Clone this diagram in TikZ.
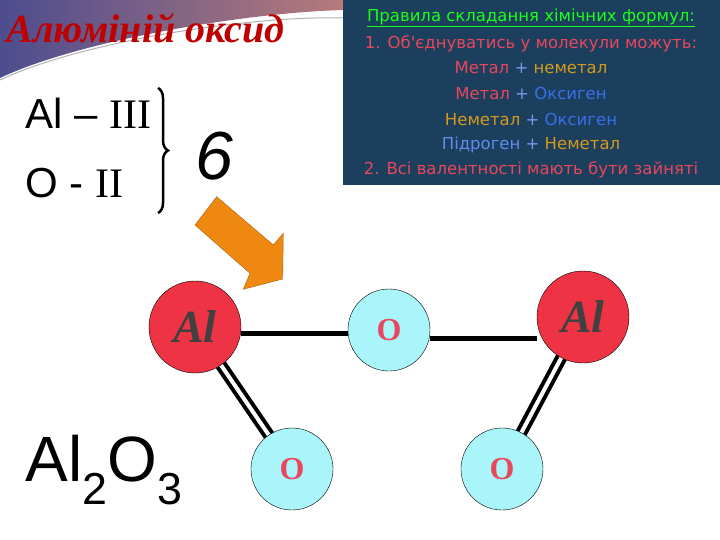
\documentclass[tikz,border=0pt]{standalone}
\usepackage{fontspec}
\setmainfont{Liberation Serif}
\newfontfamily\tah{DejaVu Sans}
\newfontfamily\ari{Liberation Sans}
\usetikzlibrary{decorations.pathreplacing}
\definecolor{boxc}{HTML}{1B3F5C}
\definecolor{rr}{HTML}{E8475E}
\definecolor{oo}{HTML}{D49A1E}
\definecolor{bb}{HTML}{3A6FEA}
\definecolor{alc}{HTML}{EE3344}
\definecolor{oxc}{HTML}{AAF5FA}
\definecolor{arr}{HTML}{EE8811}
\tikzset{
  alatom/.style={circle,draw=black,fill=alc,minimum size=92pt,inner sep=0pt,font=\bfseries\itshape\fontsize{46}{46}\selectfont,text=black!75},
  oatom/.style={circle,draw=black,fill=oxc,minimum size=82pt,inner sep=0pt,font=\bfseries\fontsize{32}{32}\selectfont,text=rr},
  bond/.style={line width=5pt},
  dbond/.style={draw=black,line width=4pt,double=white,double distance=4pt},
  rule/.style={font=\tah\fontsize{16.5}{16.5}\selectfont,anchor=center}
}
\begin{document}
\begin{tikzpicture}[x=1pt,y=-1pt]
\useasboundingbox (0,0) rectangle (720,540);
\fill[white] (0,0) rectangle (720,540);
% swoosh
\shade[left color=black!35!blue!40!gray, right color=red!30!gray!80] (0,0)--(345,0)--(345,10) .. controls (250,12) and (80,40) .. (0,78) -- cycle;
\draw[gray!60,line width=1pt] (0,80) .. controls (80,42) and (250,15) .. (345,18);
\node[font=\bfseries\itshape\fontsize{40}{40}\selectfont,text=red!75!black,anchor=west] (title) at (3,28) {Алюміній оксид};
% rules box
\fill[boxc] (343,0) rectangle (720,185);
\node[rule,text=green!90!white] (r0) at (531,18) {\underline{Правила складання хімічних формул:}};
\node[rule,text=rr] (r1) at (531,44) {1. Об'єднуватись у молекули можуть:};
\node[rule] (r2) at (531,68) {\textcolor{rr}{Метал} \textcolor{bb!70!white}{+} \textcolor{oo}{неметал}};
\node[rule] (r3) at (531,93) {\textcolor{rr}{Метал} \textcolor{bb!70!white}{+} \textcolor{bb}{Оксиген}};
\node[rule] (r4) at (531,119) {\textcolor{oo}{Неметал} \textcolor{bb!70!white}{+} \textcolor{bb}{Оксиген}};
\node[rule] (r5) at (531,145) {\textcolor{bb!80!white}{Підроген} \textcolor{bb!70!white}{+} \textcolor{oo}{Неметал}};
\node[rule,text=rr] (r6) at (531,170) {2. Всі валентності мають бути зайняті};
% valences
\node[anchor=west,font=\fontsize{42}{42}\selectfont] (v1) at (22,113) {{\ari Al – }III};
\node[anchor=west,font=\fontsize{42}{42}\selectfont] (v2) at (22,183) {{\ari O - }II};
\draw[decorate,decoration={brace,amplitude=10pt},line width=2.5pt] (158,88) -- (158,213);
\node[font=\ari\itshape\fontsize{68}{68}\selectfont] (six) at (214,156) {6};
% arrow
\fill[arr,draw=arr!70!black,line width=0.4pt] (216.7,196.7)--(273.3,245)--(283.3,233.3)--(282.7,279)--(243.3,289.3)--(250,273.3)--(195,225)--cycle;
% formula
\node[anchor=west,font=\ari\fontsize{64}{64}\selectfont] (formula) at (22,470) {Al\textsubscript{2}O\textsubscript{3}};
% atoms
\draw[dbond] (195,327) -- (292,469);
\draw[dbond] (583,317) -- (502,469);
\node[alatom] (a1) at (195,327) {Al};
\node[oatom] (o1) at (389,330) {O};
\node[alatom] (a2) at (583,317) {Al};
\node[oatom] (o2) at (292,469) {O};
\node[oatom] (o3) at (502,469) {O};
\draw[bond] (a1.east |- 0,333) -- (o1.west |- 0,333);
\draw[bond] (o1.east |- 0,338) -- (a2.west |- 0,338);
\end{tikzpicture}
\end{document}
